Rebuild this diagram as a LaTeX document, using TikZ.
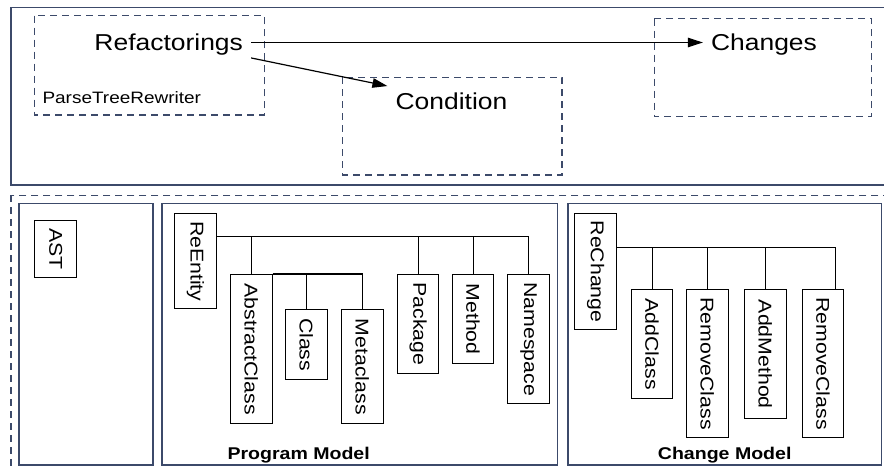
\documentclass[tikz,border=0pt]{standalone}
\usepackage{fontspec}
\usepackage{graphicx}
\setmainfont[FakeStretch=1.15]{Liberation Sans}
\usetikzlibrary{arrows.meta}
\definecolor{frame}{HTML}{3C4A6A}
\begin{document}
\begin{tikzpicture}[x=1pt,y=-1pt,
  panel/.style={draw=frame, line width=1.4pt},
  dbox/.style={draw=frame, line width=1.2pt, dash pattern=on 7pt off 5pt},
  big/.style={font=\fontsize{23}{26}\selectfont, text height=16.5pt, text depth=0pt, inner xsep=8pt, inner ysep=7pt},
  cls/.style={draw=black, line width=1pt, inner sep=0pt, minimum width=41.7pt, anchor=north west, font=\fontsize{18.5}{20}\selectfont},
  tline/.style={draw=black, line width=1.1pt},
  arr/.style={draw=black, line width=1.2pt, -{Triangle[length=15pt,width=9.5pt]}},
  caption/.style={inner sep=0pt, font=\bfseries\fontsize{17}{20}\selectfont}
  ]
\useasboundingbox (0,0) rectangle (884,470);
\clip (0,0) rectangle (884,470);

% frames
\draw[panel] (11,7.5) rectangle (900,185);
\draw[dbox] (11,195.3) rectangle (900,490);
\draw[panel] (19,203.5) rectangle (153,465);
\draw[panel] (162,203.5) rectangle (557.7,465);
\draw[panel] (568,203.5) rectangle (881.7,465);

% top dashed groups
\draw[dbox] (34.3,15.7) rectangle (264.3,115);
\draw[dbox] (342.7,77.3) rectangle (562,175);
\draw[dbox] (654.3,18.7) rectangle (871.7,116.7);

\node[big] (ref) at (168.7,42.5) {Refactorings};
\node[big] (chg) at (764,42.5) {Changes};
\node[big] (cond) at (451.5,101.5) {Condition};
\node[anchor=base west, inner sep=0pt, font=\fontsize{16.5}{19}\selectfont] (ptr) at (42.3,103.3) {ParseTreeRewriter};

\draw[arr] (ref.east) -- (chg.west);
\draw[arr] (ref.south east) -- (cond.north west);

% AST
\node[cls, minimum height=56.7pt] (ast) at (34.3,220) {\rotatebox{-90}{AST}};

% Program model
\node[cls, minimum height=95pt] (reentity) at (174,213.3) {\rotatebox{-90}{ReEntity}};
\node[cls, minimum height=149.3pt] (abstract) at (230,274) {\rotatebox{-90}{AbstractClass}};
\node[cls, minimum height=69.7pt] (class) at (285,309.3) {\rotatebox{-90}{Class}};
\node[cls, minimum height=114pt] (meta) at (341,309.3) {\rotatebox{-90}{Metaclass}};
\node[cls, minimum height=98.7pt] (package) at (396.7,274) {\rotatebox{-90}{Package}};
\node[cls, minimum height=89.3pt] (method) at (451.7,274) {\rotatebox{-90}{Method}};
\node[cls, minimum height=129.3pt] (namespace) at (507.3,274) {\rotatebox{-90}{Namespace}};

\draw[tline] (reentity.north east) ++(0,23.4) coordinate (pbus) -| (namespace.north);
\draw[tline] (pbus -| abstract.north) -- (abstract.north);
\draw[tline] (pbus -| package.north) -- (package.north);
\draw[tline] (pbus -| method.north) -- (method.north);
\draw[tline] (abstract.north east) -| (meta.north);
\draw[tline] (abstract.north east -| class.north) -- (class.north);

\node[caption, anchor=base west] (pm) at (227.3,459.3) {Program Model};

% Change model
\node[cls, minimum height=115.7pt] (rechange) at (574.3,213.3) {\rotatebox{-90}{ReChange}};
\node[cls, minimum height=109pt] (addclass) at (630.7,289.3) {\rotatebox{-90}{AddClass}};
\node[cls, minimum height=147.4pt] (remclass) at (686,289.3) {\rotatebox{-90}{RemoveClass}};
\node[cls, minimum height=129pt] (addmethod) at (744,289.3) {\rotatebox{-90}{AddMethod}};
\node[cls, minimum height=147.4pt] (remclassb) at (801.7,289.3) {\rotatebox{-90}{RemoveClass}};

\draw[tline] (rechange.north east) ++(0,34) coordinate (cbus) -- ([xshift=12.1pt]cbus -| remclassb.north) coordinate (cend) -- (cend |- remclassb.north);
\draw[tline] (cbus -| addclass.north) -- (addclass.north);
\draw[tline] (cbus -| remclass.north) -- (remclass.north);
\draw[tline] (cbus -| addmethod.north) -- (addmethod.north);

\node[caption, anchor=base] (cm) at (724.7,459.3) {Change Model};
\end{tikzpicture}
\end{document}
